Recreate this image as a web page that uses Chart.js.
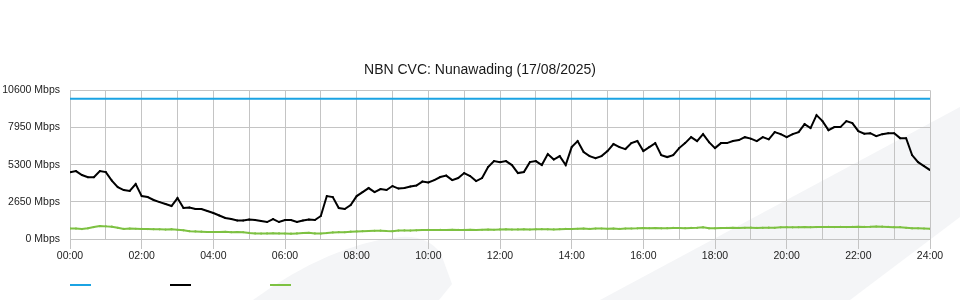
<!DOCTYPE html>
<html><head><meta charset="utf-8">
<script src="https://cdn.jsdelivr.net/npm/chart.js@4.4.1/dist/chart.umd.min.js"></script>
<style>html,body{margin:0;padding:0;background:#fff}#wrap{width:960px;height:300px;position:relative}</style>
</head><body><div id="wrap"><canvas id="c" width="960" height="300"></canvas></div>
<script>
// ---- data ----
const titleText = 'NBN CVC: Nunawading (17/08/2025)';
const hourLabels = ['00:00','02:00','04:00','06:00','08:00','10:00','12:00','14:00','16:00','18:00','20:00','22:00','24:00'];
const yTicks = [0, 2650, 5300, 7950, 10600];
const sampleMinutes = 10;
const capacityTimes = [0, 1440];
const capacity = [10000, 10000];
const download = [
4750,4840,4560,4410,4400,4840,4770,4165,3700,3490,3420,3915,3060,2990,2780,2630,2490,2350,2920,2210,
2240,2140,2140,1995,1850,1675,1495,1425,1315,1315,1390,1355,1280,1210,1425,1210,1355,1355,1210,1315,
1390,1355,1640,3060,2990,2210,2140,2420,3060,3345,3630,3345,3560,3490,3775,3595,3630,3740,3810,4095,
4025,4200,4415,4520,4200,4345,4700,4485,4130,4345,5125,5555,5480,5555,5270,4700,4770,5480,5555,5270,
6050,5660,5910,5270,6550,6980,6195,5910,5765,5910,6265,6765,6550,6410,6835,6980,6265,6550,6835,5980,
5840,5980,6480,6835,7260,6980,7475,6905,6480,6835,6835,6980,7050,7260,7155,6980,7260,7105,7620,7475,
7260,7475,7620,8190,7905,8830,8400,7760,7975,7975,8400,8260,7690,7510,7545,7335,7475,7545,7545,7190,
7190,5980,5480,5200,4915
];
const upload = [
750,740,710,760,850,920,900,880,800,720,740,730,720,710,700,690,670,700,660,620,
560,540,520,500,500,500,510,490,500,480,430,400,390,400,410,400,390,380,400,420,
440,400,390,420,470,490,480,520,540,560,570,580,590,570,560,600,610,600,620,640,
650,640,650,640,660,650,650,660,640,660,670,660,680,690,670,680,690,670,690,700,
690,680,700,720,710,730,740,720,740,750,730,740,720,740,750,760,780,770,780,760,
770,790,780,770,790,800,830,760,760,780,790,800,790,800,810,790,800,810,800,830,
840,830,840,850,840,850,850,860,850,860,850,860,870,860,870,890,880,860,840,840,
800,760,760,750,730
];
const times = download.map((_, i) => i * sampleMinutes);

const seriesColors = ['#1ba3e3', '#000000', '#7dc142'];
const gridColor = '#c4c4c4';
const tickFont = {family: 'Liberation Sans, Arial, sans-serif', size: 10.5};

const pts = (xs, ys) => ys.map((v, i) => ({x: xs[i], y: v}));

const bgPlugin = {
  id: 'bg',
  beforeDraw(chart) {
    const ctx = chart.ctx;
    ctx.save();
    ctx.fillStyle = '#ffffff';
    ctx.fillRect(0, 0, chart.width, chart.height);
    ctx.fillStyle = '#f4f5f7';
    ctx.beginPath();
    ctx.moveTo(253, 300);
    ctx.quadraticCurveTo(330, 244, 400, 237);
    ctx.quadraticCurveTo(428, 235, 441, 254);
    ctx.lineTo(452, 284);
    ctx.lineTo(439, 300);
    ctx.closePath();
    ctx.fill();
    ctx.beginPath();
    ctx.moveTo(600, 300);
    ctx.lineTo(960, 107);
    ctx.lineTo(960, 217);
    ctx.lineTo(850, 300);
    ctx.closePath();
    ctx.fill();
    ctx.restore();
  }
};

const legendPlugin = {
  id: 'lineLegend',
  afterDraw(chart) {
    const ctx = chart.ctx;
    ctx.save();
    chart.data.datasets.forEach((ds, i) => {
      const x0 = chart.chartArea.left + i * 100;
      ctx.strokeStyle = ds.borderColor;
      ctx.lineWidth = 2;
      ctx.beginPath();
      ctx.moveTo(x0, 285);
      ctx.lineTo(x0 + 21, 285);
      ctx.stroke();
    });
    ctx.restore();
  }
};

new Chart(document.getElementById('c'), {
  type: 'line',
  data: {
    datasets: [
      {label: 'Capacity', data: pts(capacityTimes, capacity), borderColor: seriesColors[0], borderWidth: 2, pointRadius: 0},
      {label: 'Download', data: pts(times, download), borderColor: seriesColors[1], backgroundColor: seriesColors[1], borderWidth: 2, pointRadius: 1, pointBorderWidth: 0},
      {label: 'Upload', data: pts(times, upload), borderColor: seriesColors[2], backgroundColor: seriesColors[2], borderWidth: 2, pointRadius: 1.1, pointBorderWidth: 0}
    ]
  },
  options: {
    responsive: false,
    devicePixelRatio: 1,
    animation: false,
    elements: {line: {tension: 0}},
    layout: {padding: 0},
    plugins: {
      legend: {display: false},
      tooltip: {enabled: false},
      title: {
        display: true, text: titleText, color: '#1a1a1a',
        font: {family: 'Liberation Sans, Arial, sans-serif', size: 14, weight: 'normal'},
        padding: {top: 62, bottom: 11.5}
      }
    },
    scales: {
      x: {
        type: 'linear', min: 0, max: 1440,
        afterBuildTicks: s => { s.ticks = Array.from({length: 25}, (_, h) => ({value: h * 60})); },
        afterFit: s => { s.height = 61; },
        ticks: {
          autoSkip: false, maxRotation: 0, padding: 1, color: '#222', font: tickFont,
          callback: v => (v % 120 === 0 ? hourLabels[v / 120] : '')
        },
        grid: {
          color: gridColor, lineWidth: 1, tickLength: 10,
          tickColor: c => (c.tick && c.tick.value % 120 === 0 ? gridColor : 'rgba(0,0,0,0)')
        },
        border: {display: false}
      },
      y: {
        type: 'linear', min: 0, max: 10600,
        afterBuildTicks: s => { s.ticks = yTicks.map(v => ({value: v})); },
        afterFit: s => { s.width = 70; },
        ticks: {
          padding: 10, color: '#222', font: tickFont,
          callback: v => v + ' Mbps'
        },
        grid: {color: gridColor, lineWidth: 1, drawTicks: false},
        border: {display: false}
      },
      yRight: {
        type: 'linear', position: 'right', min: 0, max: 10600,
        afterFit: s => { s.width = 30; },
        ticks: {display: false},
        grid: {display: false, drawTicks: false},
        border: {display: false}
      }
    }
  },
  plugins: [bgPlugin, legendPlugin]
});
</script>
</body></html>
